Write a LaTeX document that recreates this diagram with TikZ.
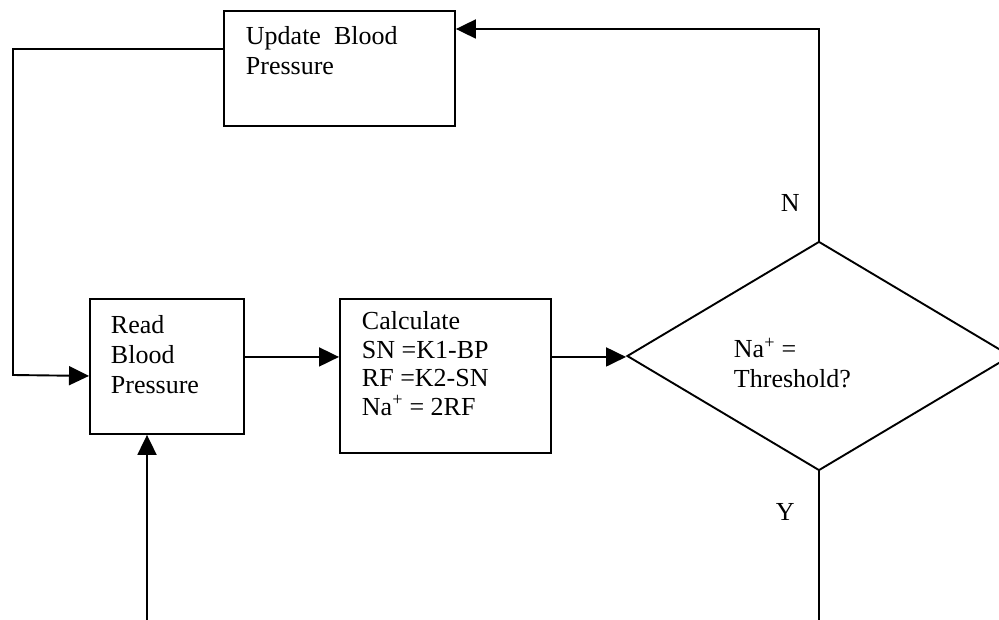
\documentclass[tikz,border=0pt]{standalone}
\usepackage{fontspec}
\setmainfont{Liberation Serif}
\usetikzlibrary{shapes.geometric,arrows.meta}
\begin{document}
\begin{tikzpicture}[x=1pt,y=-1pt,
  line width=1.9pt,
  box/.style={draw, line width=1.9pt, inner sep=0pt, anchor=north west},
  txt/.style={anchor=base west, inner sep=0pt, align=left, font=\fontsize{26}{30}\selectfont},
  conn/.style={line width=1.9pt, -{Triangle[length=20pt,width=19pt]}},
  plain/.style={line width=1.9pt}
]
\useasboundingbox (0,0) rectangle (999,620);
\clip (0,0) rectangle (999,620);
% boxes
\node[box, minimum width=231pt, minimum height=115pt] (upd) at (223,10) {};
\node[box, minimum width=154pt, minimum height=135pt] (read) at (89,298) {};
\node[box, minimum width=211pt, minimum height=154pt] (calc) at (339,298) {};
\node[draw, diamond, line width=1.9pt, inner sep=0pt, minimum width=384pt, minimum height=229pt, shape aspect=1.677] (dia) at (819,356) {};
% texts (base anchor = last line baseline)
\node[txt] (tupd) at (245,75) {Update\ \ Blood\\Pressure};
\node[txt] (tread) at (110,393) {Read\\Blood\\Pressure};
\node[txt, font=\fontsize{26}{28.5}\selectfont] (tcalc) at (361,415) {Calculate\\SN =K1-BP\\RF =K2-SN\\Na\textsuperscript{+} = 2RF};
\node[txt] (tdia) at (733,388) {Na\textsuperscript{+} =\\Threshold?};
\node[txt] (ln) at (780,212) {N};
\node[txt] (ly) at (775,520) {Y};
% connectors
\coordinate (c1) at (13,49);
\coordinate (c2) at (13,375);
\draw[conn] ([yshift=-39pt]upd.north west) -- (c1) -- (c2) -- ([yshift=-9.5pt]read.west);
\coordinate (r1) at ([yshift=9.5pt]read.east);
\draw[conn] (r1) -- (r1 -| calc.west);
\coordinate (r2) at ([yshift=19pt]calc.east);
\draw[conn] (r2) -- (r2 -| dia.west);
\coordinate (c4) at (819,29);
\draw[conn] (dia.north) -- (c4) -- (c4 -| upd.east);
\coordinate (c5) at (819,625);
\draw[plain] (dia.south) -- (c5);
\coordinate (c6) at (147,625);
\draw[conn] (c6) -- (c6 |- read.south);
\end{tikzpicture}
\end{document}
